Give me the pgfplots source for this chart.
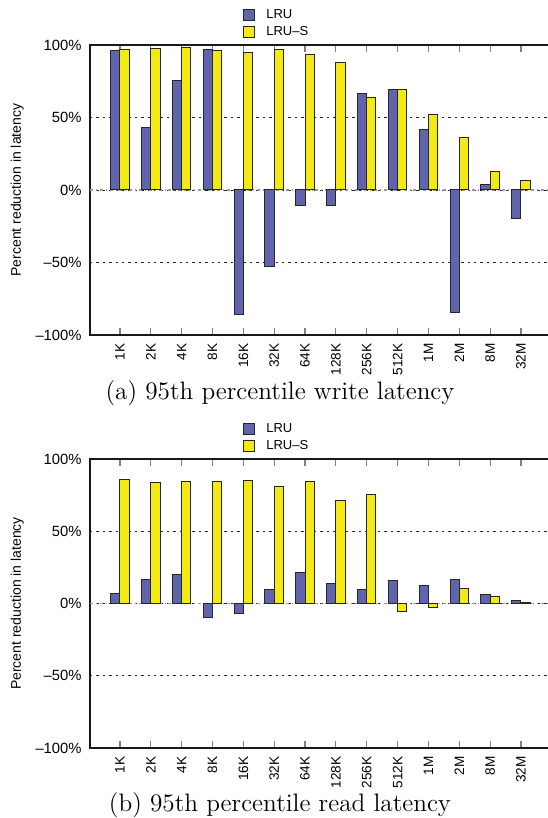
\documentclass[border=0pt]{standalone}
\usepackage{fontspec}
\usepackage{pgfplots}
\usepackage{pgfplotstable}
\pgfplotsset{compat=1.18}
\newfontfamily\hel{Liberation Sans}
\definecolor{lrublue}{HTML}{5F64AD}
\definecolor{lrusyel}{HTML}{F2EA12}

\pgfplotstableread{
x lru lrus
0 96.1 96.6
1 43.4 97.5
2 75.4 98.4
3 96.6 96.1
4 -86.0 94.7
5 -53.1 97.0
6 -10.8 93.3
7 -10.8 87.8
8 66.4 64.1
9 69.2 69.0
10 41.6 52.0
11 -84.6 36.1
12 3.9 12.6
13 -20.0 6.4
}\writedata

\pgfplotstableread{
x lru lrus
0 6.9 86.0
1 16.5 83.9
2 20.0 84.6
3 -9.6 84.2
4 -6.9 85.3
5 9.6 81.2
6 21.6 84.6
7 14.0 71.1
8 9.6 75.7
9 16.1 -5.3
10 12.6 -2.8
11 16.5 10.3
12 6.2 4.8
13 2.1 0.5
}\readdata

\pgfplotsset{
  latbar/.style={
    scale only axis,
    width=232pt,
    xmin=-0.97, xmax=14.07,
    ymin=-100, ymax=100,
    enlargelimits=false,
    axis line style={line width=0.9pt, black!90},
    xtick={0,...,13},
    xticklabels={1K,2K,4K,8K,16K,32K,64K,128K,256K,512K,1M,2M,8M,32M},
    xtick style={gray, line width=0.6pt},
    major tick length=3.5pt,
    xticklabel style={rotate=90, anchor=east, inner sep=0pt, font=\hel\fontsize{6.8}{8}\selectfont},
    xticklabel shift=4pt,
    ytick={-100,-50,0,50,100},
    yticklabels={–100\%,–50\%,0\%,50\%,100\%},
    ytick style={draw=none},
    yticklabel style={anchor=east, inner sep=0pt, font=\hel\fontsize{7.4}{8}\selectfont},
    yticklabel shift=4pt,
    ymajorgrids,
    grid style={black!85, line width=0.45pt, dash pattern=on 1.2pt off 2pt},
    extra y ticks={0},
    extra y tick labels={},
    extra y tick style={grid style={gray!80, line width=0.6pt, dash pattern=on 1.5pt off 1.5pt on 0.4pt off 1.5pt}},
    ylabel={Percent reduction in latency},
    ylabel style={at={(axis description cs:-0.157,0.5)}, anchor=center, rotate=0, font=\hel\fontsize{7}{8}\selectfont},
    legend cell align=left,
    legend image code/.code={\draw[#1] (0pt,-2.75pt) rectangle (5.5pt,2.75pt);},
    legend style={draw=none, fill=none, inner sep=0pt, row sep=2.4pt, column sep=5.5pt,
      nodes={inner sep=0pt, font=\hel\fontsize{6.5}{7}\selectfont}},
  },
  lrubar/.style={ybar, bar width=0.3, bar shift=-0.15, fill=lrublue, draw=black!85, line width=0.5pt},
  lrusbar/.style={ybar, bar width=0.3, bar shift=0.15, fill=lrusyel, draw=black!85, line width=0.5pt},
}

\begin{document}
\begin{tikzpicture}
\useasboundingbox (0,0) rectangle (273.5pt,-409pt);
\begin{axis}[latbar, at={(45pt,-22.5pt)}, anchor=north west, height=145pt,
  legend style={at={(axis description cs:0.3297,1.124)}, anchor=north west}]
  \addplot[lrubar] table[x=x,y=lru]{\writedata};
  \addplot[lrusbar] table[x=x,y=lrus]{\writedata};
  \legend{LRU,LRU–S}
\end{axis}
\node[anchor=base, font=\fontsize{12.6}{14}\selectfont] at (140pt,-199.75pt) {(a) 95th percentile write latency};
\begin{axis}[latbar, at={(45pt,-229.5pt)}, anchor=north west, height=144.5pt,
  legend style={at={(axis description cs:0.3297,1.1246)}, anchor=north west}]
  \addplot[lrubar] table[x=x,y=lru]{\readdata};
  \addplot[lrusbar] table[x=x,y=lrus]{\readdata};
  \legend{LRU,LRU–S}
\end{axis}
\node[anchor=base, font=\fontsize{12.6}{14}\selectfont] at (140pt,-405.75pt) {(b) 95th percentile read latency};
\end{tikzpicture}
\end{document}
